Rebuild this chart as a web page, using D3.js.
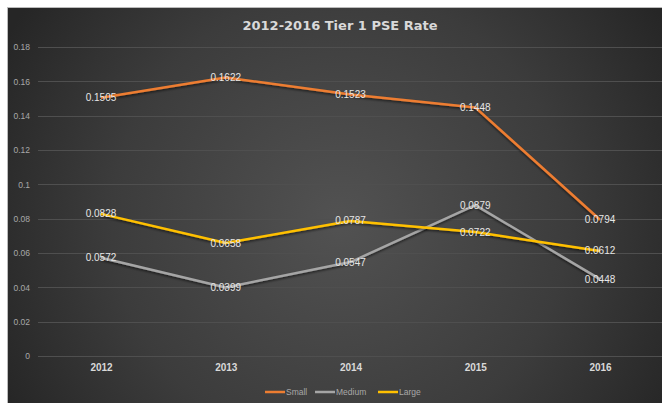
<!DOCTYPE html>
<html>
<head>
<meta charset="utf-8">
<script src="https://cdn.jsdelivr.net/npm/d3@7"></script>
<style>
  body { margin: 0; background: #fff; }
  svg { display: block; }
</style>
</head>
<body>
<svg id="canvas" width="662" height="403"></svg>
<script>
// chart data
const years = ["2012", "2013", "2014", "2015", "2016"];
const small = [0.1505, 0.1622, 0.1523, 0.1448, 0.0794];
const medium = [0.0572, 0.0399, 0.0547, 0.0879, 0.0448];
const large = [0.0828, 0.0658, 0.0787, 0.0722, 0.0612];
const yTicks = [0, 0.02, 0.04, 0.06, 0.08, 0.1, 0.12, 0.14, 0.16, 0.18];
const seriesNames = ["Small", "Medium", "Large"];
const seriesColors = ["#ed7d31", "#a5a5a5", "#ffc000"];

const series = [small, medium, large].map((vals, i) => ({
    name: seriesNames[i],
    color: seriesColors[i],
    values: vals
}));

const svg = d3.select('#canvas');
const W = 662, H = 403;
const padLeft = 7, padTop = 7;
const font = "'Liberation Sans', Arial, sans-serif";

// background with radial gradient
let defs = svg.append('defs');
let grad = defs.append('radialGradient')
    .attr('id', 'bg')
    .attr('gradientUnits', 'userSpaceOnUse')
    .attr('cx', 340).attr('cy', 220).attr('r', 380);
grad.append('stop').attr('offset', '0%').attr('stop-color', '#525252');
grad.append('stop').attr('offset', '60%').attr('stop-color', '#3c3c3c');
grad.append('stop').attr('offset', '100%').attr('stop-color', '#262626');

let shadow = defs.append('filter').attr('id', 'shadow')
    .attr('x', '-10%').attr('y', '-10%').attr('width', '120%').attr('height', '130%');
shadow.append('feDropShadow')
    .attr('dx', 0).attr('dy', 1.5).attr('stdDeviation', 1)
    .attr('flood-color', '#000').attr('flood-opacity', 0.6);

svg.append('rect')
    .attr('x', padLeft).attr('y', padTop)
    .attr('width', W - padLeft).attr('height', H - padTop)
    .attr('fill', 'url(#bg)');
// thin light edge on the border
svg.append('line')
    .attr('x1', padLeft).attr('x2', W).attr('y1', padTop + 0.5).attr('y2', padTop + 0.5)
    .attr('stroke', '#bbb').attr('stroke-width', 1);
svg.append('line')
    .attr('x1', padLeft + 0.5).attr('x2', padLeft + 0.5).attr('y1', padTop).attr('y2', H)
    .attr('stroke', '#bbb').attr('stroke-width', 1);

// scales
const x = d3.scalePoint()
    .domain(years)
    .range([101, 600]);

const y = d3.scaleLinear()
    .domain([0, 0.18])
    .range([356, 47]);

// gridlines
svg.append('g')
    .selectAll('line')
    .data(yTicks)
    .join('line')
    .attr('x1', 38).attr('x2', W)
    .attr('y1', d => Math.round(y(d)) + 0.5)
    .attr('y2', d => Math.round(y(d)) + 0.5)
    .attr('stroke', '#4f4f4f')
    .attr('stroke-width', 1);

// y axis labels
let yAxis = d3.axisLeft(y).tickValues(yTicks).tickSize(0).tickPadding(0)
    .tickFormat(d => d3.format('~g')(+d.toFixed(2)));
svg.append('g')
    .attr('transform', 'translate(30,0)')
    .call(yAxis)
    .call(g => g.select('.domain').remove())
    .call(g => g.selectAll('text')
        .attr('fill', '#a8a8a8')
        .attr('font-family', font)
        .attr('font-size', 8.5));

// x axis labels
let xAxis = d3.axisBottom(x).tickSize(0).tickPadding(0);
svg.append('g')
    .attr('transform', 'translate(0,364)')
    .call(xAxis)
    .call(g => g.select('.domain').remove())
    .call(g => g.selectAll('text')
        .attr('fill', '#d9d9d9')
        .attr('font-family', font)
        .attr('font-weight', 'bold')
        .attr('font-size', 10));

// title
svg.append('text')
    .attr('x', 340).attr('y', 30)
    .attr('text-anchor', 'middle')
    .attr('fill', '#d9d9d9')
    .attr('font-family', "'DejaVu Sans', sans-serif")
    .attr('font-weight', 'bold')
    .attr('font-size', 13)
    .text('2012-2016 Tier 1 PSE Rate');

// lines
let line = d3.line()
    .x((d, i) => x(years[i]))
    .y(d => y(d));

svg.append('g')
    .selectAll('path')
    .data(series)
    .join('path')
    .attr('d', d => line(d.values))
    .attr('fill', 'none')
    .attr('stroke', d => d.color)
    .attr('stroke-width', 2.5)
    .attr('stroke-linejoin', 'round')
    .attr('filter', 'url(#shadow)');

// data labels, centered on the points
let labels = [];
for (let s of series) {
    s.values.forEach((v, i) => labels.push({ v: v, year: years[i] }));
}
svg.append('g')
    .selectAll('text')
    .data(labels)
    .join('text')
    .attr('x', d => x(d.year))
    .attr('y', d => y(d.v) + 3.5)
    .attr('text-anchor', 'middle')
    .attr('fill', '#e6e6e6')
    .attr('font-family', font)
    .attr('font-size', 10)
    .text(d => d.v.toFixed(4));

// legend
const legendX = [265, 315, 378];
let legend = svg.append('g')
    .selectAll('g')
    .data(series)
    .join('g')
    .attr('transform', (d, i) => `translate(${legendX[i]},392)`);
legend.append('line')
    .attr('x1', 0).attr('x2', 20)
    .attr('stroke', d => d.color)
    .attr('stroke-width', 2.5);
legend.append('text')
    .attr('x', 21).attr('y', 3)
    .attr('fill', '#a8a8a8')
    .attr('font-family', font)
    .attr('font-size', 8.5)
    .text(d => d.name);
</script>
</body>
</html>
